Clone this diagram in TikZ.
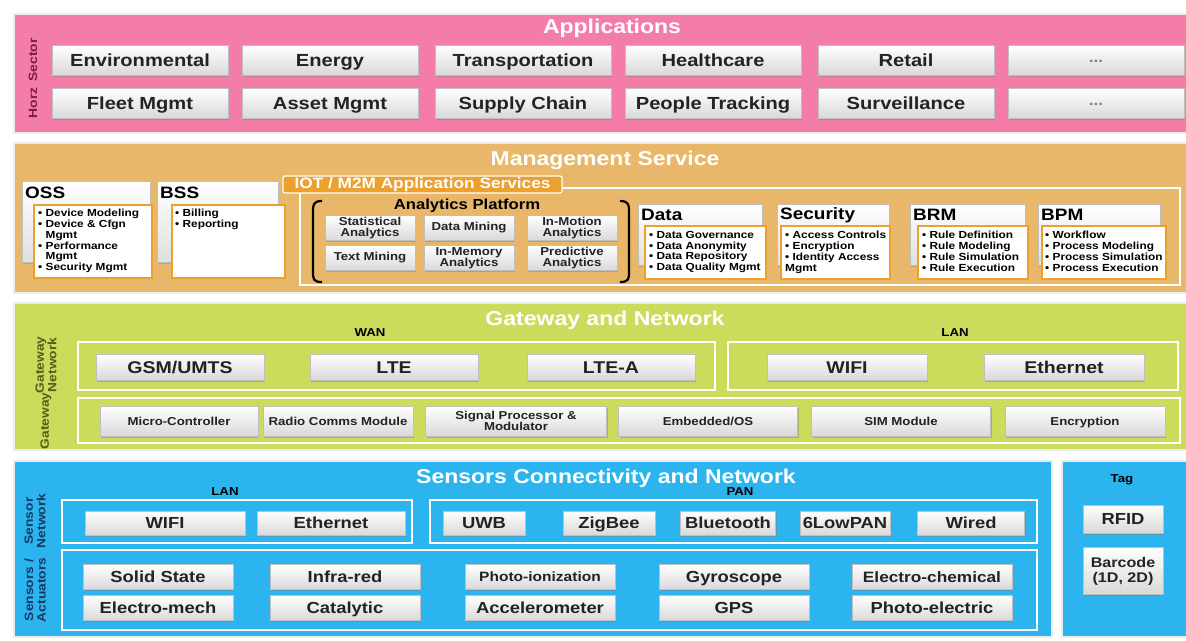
\documentclass[tikz,border=0pt]{standalone}
\usepackage{fontspec}
\setmainfont{Liberation Sans}[FakeStretch=1.15]
\usepackage{tikz}
\usetikzlibrary{shadows}

\definecolor{apppink}{RGB}{244,124,168}
\definecolor{mgmttan}{RGB}{233,183,105}
\definecolor{gwlime}{RGB}{204,219,92}
\definecolor{sensblue}{RGB}{43,180,238}
\definecolor{iotorange}{RGB}{236,160,45}
\definecolor{appside}{RGB}{120,30,62}
\definecolor{gwside}{RGB}{80,95,25}
\definecolor{sensside}{RGB}{25,55,100}
\definecolor{btntext}{RGB}{35,35,35}

\newcommand{\pxsize}[1]{\fontsize{#1}{#1}\selectfont}
\newcommand{\itm}{\textbullet~}
\newcommand{\noitm}{\phantom{\textbullet~}}

\tikzset{
  layer/.style={draw=white!85!gray, line width=1.5pt, fill=#1},
  frame/.style={draw=white, line width=2.5pt},
  ttl/.style={text=white, font=\bfseries\pxsize{20}, inner sep=0pt},
  side/.style={rotate=90, text=#1, font=\bfseries\fontsize{12}{12.5}\selectfont, align=center, inner sep=0pt},
  netlbl/.style={font=\bfseries\pxsize{11.5}, inner sep=0pt},
  btn/.style={draw=gray!50, line width=0.6pt, top color=white, bottom color=gray!30,
    drop shadow={opacity=0.45, shadow xshift=1.3pt, shadow yshift=-1.5pt},
    text=btntext, align=center, inner sep=1pt},
  oneline/.style={text height=#1, text depth=0pt},
  appbtn/.style={btn, oneline=12.5pt, minimum width=176, minimum height=30, font=\bfseries\pxsize{17.5}},
  grp/.style={draw=gray!50, top color=white, bottom color=gray!25,
    drop shadow={opacity=0.35, shadow xshift=1.3pt, shadow yshift=-1.5pt}, inner sep=0pt},
  hdr/.style={font=\bfseries\pxsize{16.5}, inner sep=0pt},
  lst/.style={draw=iotorange, line width=2pt, fill=white, inner sep=0pt},
  bul/.style={font=\bfseries\fontsize{10.3}{10.8}\selectfont, align=left, inner sep=0pt},
  anbtn/.style={btn, minimum width=90, minimum height=25, font=\bfseries\fontsize{11.5}{11}\selectfont},
  gwbtn/.style={btn, oneline=12.2pt, minimum width=168, minimum height=26, font=\bfseries\pxsize{17}},
  modbtn/.style={btn, minimum height=30, font=\bfseries\fontsize{11.5}{11}\selectfont},
  modone/.style={modbtn, oneline=8.3pt},
  snbtn/.style={btn, oneline=11.5pt, minimum height=24, font=\bfseries\pxsize{16}},
  sabtn/.style={btn, oneline=11.5pt, minimum width=150, minimum height=25, font=\bfseries\pxsize{16}},
}

\begin{document}
\begin{tikzpicture}[x=1pt, y=-1pt]
    \useasboundingbox (0,0) rectangle (1186,640);

    % Applications
    \draw[layer=apppink] (14,14) rectangle (1195,133);
    \node[ttl] (apptitle) at (612,28) {Applications};
    \node[side=appside] (sector) at (33,60) {Sector};
    \node[side=appside] (horz) at (33,103) {Horz};
    \node[appbtn] (env) at (140,60) {Environmental};
    \node[appbtn] (energy) at (330,60) {Energy};
    \node[appbtn] (transp) at (523,60) {Transportation};
    \node[appbtn] (health) at (713,60) {Healthcare};
    \node[appbtn] (retail) at (906,60) {Retail};
    \node[appbtn, oneline=4pt, text=gray, font=\bfseries\pxsize{15}] (moresec) at (1096,60) {...};
    \node[appbtn] (fleet) at (140,103) {Fleet Mgmt};
    \node[appbtn] (asset) at (330,103) {Asset Mgmt};
    \node[appbtn] (supply) at (523,103) {Supply Chain};
    \node[appbtn] (people) at (713,103) {People Tracking};
    \node[appbtn] (surv) at (906,103) {Surveillance};
    \node[appbtn, oneline=4pt, text=gray, font=\bfseries\pxsize{15}] (morehorz) at (1096,103) {...};

    % Management Service
    \draw[layer=mgmttan] (14,143) rectangle (1195,293);
    \node[ttl] (mgmttitle) at (605,160) {Management Service};
    % OSS / BSS
    \node[grp, minimum width=128, minimum height=81] (oss) at (86,221.5) {};
    \node[hdr, anchor=west] (osshd) at (25,193) {OSS};
    \node[lst, minimum width=118, minimum height=73] (osslst) at (93,241.5) {};
    \node[bul, anchor=north west] (ossitems) at (38,209) {\itm Device Modeling\\ \itm Device \& Cfgn\\ \noitm Mgmt\\ \itm Performance\\ \noitm Mgmt\\ \itm Security Mgmt};
    \node[grp, minimum width=121, minimum height=81] (bss) at (217.5,221.5) {};
    \node[hdr, anchor=west] (bsshd) at (160,193) {BSS};
    \node[lst, minimum width=113, minimum height=73] (bsslst) at (228.5,241.5) {};
    \node[bul, anchor=north west] (bssitems) at (175,209) {\itm Billing\\ \itm Reporting};

    % IOT / M2M services
    \draw[frame, line width=2pt] (300,188) rectangle (1180,285);
    \node[fill=iotorange, draw=white, line width=1.2pt, rounded corners=2pt, text=white,
      font=\bfseries\pxsize{15}, minimum width=279, minimum height=17, inner sep=0pt]
      (iottab) at (422.5,184.5) {IOT / M2M Application Services};

    % Analytics Platform
    \node[font=\bfseries\pxsize{14.5}, inner sep=0pt] (antitle) at (467,206) {Analytics Platform};
    \draw[line width=2.2pt] (322,201) .. controls (313,201) and (313,205) .. (313,212) -- (313,271) .. controls (313,279) and (313,282) .. (322,282);
    \draw[line width=2.2pt] (620,201) .. controls (629,201) and (629,205) .. (629,212) -- (629,271) .. controls (629,279) and (629,282) .. (620,282);
    \node[anbtn] (stat) at (370,228) {Statistical\\Analytics};
    \node[anbtn] (dmin) at (469,228) {Data Mining};
    \node[anbtn] (inmot) at (572,228) {In-Motion\\Analytics};
    \node[anbtn] (tmin) at (370,258) {Text Mining};
    \node[anbtn] (inmem) at (469,258) {In-Memory\\Analytics};
    \node[anbtn] (pred) at (572,258) {Predictive\\Analytics};

    % Data / Security / BRM / BPM
    \node[grp, minimum width=124, minimum height=61] (data) at (700,234.5) {};
    \node[hdr, anchor=west] (datahd) at (641,215) {Data};
    \node[lst, minimum width=121, minimum height=53] (datalst) at (705.5,252.5) {};
    \node[bul, anchor=north west] (dataitems) at (649,231) {\itm Data Governance\\ \itm Data Anonymity\\ \itm Data Repository\\ \itm Data Quality Mgmt};
    \node[grp, minimum width=112, minimum height=61] (sec) at (833,234.5) {};
    \node[hdr, anchor=west] (sechd) at (780,215) {Security};
    \node[lst, minimum width=109, minimum height=53] (seclst) at (835.5,252.5) {};
    \node[bul, anchor=north west] (secitems) at (785,231) {\itm Access Controls\\ \itm Encryption\\ \itm Identity Access\\ Mgmt};
    \node[grp, minimum width=115, minimum height=61] (brm) at (967.5,234.5) {};
    \node[hdr, anchor=west] (brmhd) at (913,215) {BRM};
    \node[lst, minimum width=110, minimum height=53] (brmlst) at (973,252.5) {};
    \node[bul, anchor=north west] (brmitems) at (922,231) {\itm Rule Definition\\ \itm Rule Modeling\\ \itm Rule Simulation\\ \itm Rule Execution};
    \node[grp, minimum width=122, minimum height=61] (bpm) at (1099,234.5) {};
    \node[hdr, anchor=west] (bpmhd) at (1041,215) {BPM};
    \node[lst, minimum width=124, minimum height=53] (bpmlst) at (1104,252.5) {};
    \node[bul, anchor=north west] (bpmitems) at (1045,231) {\itm Workflow\\ \itm Process Modeling\\ \itm Process Simulation\\ \itm Process Execution};

    % Gateway and Network
    \draw[layer=gwlime] (14,303) rectangle (1195,450);
    \node[ttl] (gwtitle) at (605,320) {Gateway and Network};
    \node[side=gwside] (gwnet) at (46,365) {Gateway\\Network};
    \node[side=gwside] (gwside) at (46,421) {Gateway};
    \node[netlbl] (wanlbl) at (370,333) {WAN};
    \draw[frame] (78,342) rectangle (715,390);
    \node[netlbl] (gwlanlbl) at (955,333) {LAN};
    \draw[frame] (728,342) rectangle (1178,390);
    \node[gwbtn] (gsm) at (180,367) {GSM/UMTS};
    \node[gwbtn] (lte) at (394,367) {LTE};
    \node[gwbtn] (ltea) at (611,367) {LTE-A};
    \node[gwbtn, minimum width=160] (gwwifi) at (847,367) {WIFI};
    \node[gwbtn, minimum width=160] (gweth) at (1064,367) {Ethernet};
    \draw[frame] (78,398) rectangle (1180,443);
    \node[modone, minimum width=158] (mcu) at (179,421) {Micro-Controller};
    \node[modone, minimum width=150] (radio) at (338,421) {Radio Comms Module};
    \node[modbtn, minimum width=181] (sigproc) at (516,421) {Signal Processor \&\\Modulator};
    \node[modone, minimum width=179] (embos) at (708,421) {Embedded/OS};
    \node[modone, minimum width=179] (sim) at (901,421) {SIM Module};
    \node[modone, minimum width=160] (encr) at (1085,421) {Encryption};

    % Sensors Connectivity and Network
    \draw[layer=sensblue] (14,461) rectangle (1052,637);
    \node[ttl] (senstitle) at (606,478) {Sensors Connectivity and Network};
    \node[side=sensside] (snnet) at (35,521) {Sensor\\Network};
    \node[side=sensside] (snact) at (35,590) {Sensors /\\Actuators};
    \node[netlbl] (snlanlbl) at (225,492) {LAN};
    \draw[frame] (62,500) rectangle (412,543);
    \node[snbtn, minimum width=160] (snwifi) at (165,523) {WIFI};
    \node[snbtn, minimum width=148] (sneth) at (331,523) {Ethernet};
    \node[netlbl] (panlbl) at (740,492) {PAN};
    \draw[frame] (430,500) rectangle (1037,543);
    \node[snbtn, minimum width=82] (uwb) at (484,523) {UWB};
    \node[snbtn, minimum width=92] (zigbee) at (609,523) {ZigBee};
    \node[snbtn, minimum width=95] (bt) at (728,523) {Bluetooth};
    \node[snbtn, minimum width=90] (lowpan) at (845,523) {6LowPAN};
    \node[snbtn, minimum width=107] (wired) at (971,523) {Wired};
    \draw[frame] (62,550) rectangle (1037,630);
    \node[sabtn] (solid) at (158,577) {Solid State};
    \node[sabtn] (infra) at (345,577) {Infra-red};
    \node[sabtn, oneline=9.7pt, font=\bfseries\pxsize{13.5}] (photoion) at (540,577) {Photo-ionization};
    \node[sabtn] (gyro) at (734,577) {Gyroscope};
    \node[sabtn, oneline=10.8pt, minimum width=160, font=\bfseries\pxsize{15}] (echem) at (932,577) {Electro-chemical};
    \node[sabtn] (emech) at (158,608) {Electro-mech};
    \node[sabtn] (catal) at (345,608) {Catalytic};
    \node[sabtn] (accel) at (540,608) {Accelerometer};
    \node[sabtn] (gps) at (734,608) {GPS};
    \node[sabtn, minimum width=160] (pelec) at (932,608) {Photo-electric};

    % Tag
    \draw[layer=sensblue] (1062,461) rectangle (1195,637);
    \node[netlbl] (taglbl) at (1122,480) {Tag};
    \node[snbtn, minimum width=80, minimum height=28] (rfid) at (1123,519) {RFID};
    \node[btn, minimum width=80, minimum height=47, font=\bfseries\fontsize{14}{15}\selectfont] (barcode) at (1123,571) {Barcode\\(1D, 2D)};
\end{tikzpicture}
\end{document}
